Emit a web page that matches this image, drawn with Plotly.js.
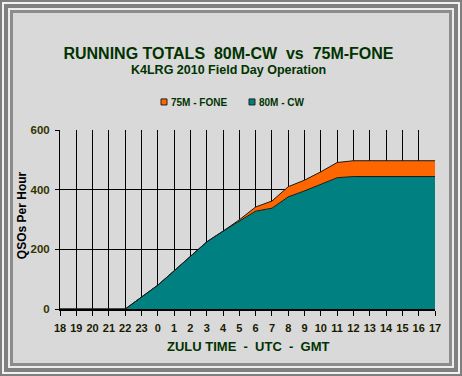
<!DOCTYPE html>
<html>
<head>
<meta charset="utf-8">
<script src="https://cdn.plot.ly/plotly-3.0.1.min.js"></script>
<style>
html,body{margin:0;padding:0;background:#d9d9d9;}
#f1{width:462px;height:376px;box-sizing:border-box;border:2px solid #7f7f7f;background:#d9d9d9;}
#f2{width:100%;height:100%;box-sizing:border-box;border:2px solid #f2f2f2;}
#f3{width:100%;height:100%;box-sizing:border-box;border:4px solid #808080;}
#f4{width:100%;height:100%;box-sizing:border-box;border:2px solid #ececec;}
#f5{width:100%;height:100%;box-sizing:border-box;border:3px solid #8c8c8c;}
#chart{width:436px;height:350px;}
</style>
</head>
<body>
<div id="f1"><div id="f2"><div id="f3"><div id="f4"><div id="f5"><div id="chart"></div></div></div></div></div></div>
<script>
var hours = ["18","19","20","21","22","23","0","1","2","3","4","5","6","7","8","9","10","11","12","13","14","15","16","17"];
var cw80 =   [0,0,0,0,0,40,80,128,178,225,261,295,328,338,376,396,418,440,444,444,444,444,444,444];
var fone75 = [0,0,0,0,0,0,0,0,0,0,0,4,14,24,34,36,42,51,53,53,53,53,53,53];
var seriesNames = ["80M - CW","75M - FONE"];
var seriesColors = ["#008080","#ff6600"];

var OFF = 13;               // frame thickness around the chart div
var W = 436, H = 350;
var PL = 60, PR = 435, PT = 130, PB = 308.7;   // plot area in page pixels
var ml = PL - OFF, mr = W - (PR - OFF), mt = PT - OFF, mb = Math.round(H - (PB - OFF));
function px(x){ return (x - PL) / (PR - PL); }
function py(y){ return (PB - y) / (PB - PT); }

var traces = [
  {x: hours, y: cw80, type: "scatter", mode: "lines", stackgroup: "s", name: seriesNames[0],
   fillcolor: seriesColors[0], line: {color: "#1a1a1a", width: 1}, showlegend: false, hoverinfo: "skip"},
  {x: hours, y: fone75, type: "scatter", mode: "lines", stackgroup: "s", name: seriesNames[1],
   fillcolor: seriesColors[1], line: {color: "#1a1a1a", width: 1}, showlegend: false, hoverinfo: "skip"}
];

var legendItems = [
  {name: seriesNames[1], color: seriesColors[1], sq: 161},
  {name: seriesNames[0], color: seriesColors[0], sq: 249}
];
var shapes = [], annotations = [];
legendItems.forEach(function(it){
  shapes.push({type: "rect", xref: "paper", yref: "paper",
    x0: px(it.sq), x1: px(it.sq + 6), y0: py(105), y1: py(99),
    fillcolor: it.color, line: {color: "#222222", width: 1}});
  annotations.push({text: "<b>" + it.name + "</b>", xref: "paper", yref: "paper",
    x: px(it.sq + 7.5), y: py(102.5), xanchor: "left", yanchor: "middle", showarrow: false,
    font: {size: 10, color: "#003300"}});
});
annotations.push({
  text: "<b>K4LRG 2010 Field Day Operation</b>",
  xref: "paper", yref: "paper", x: px(228), y: py(70), xanchor: "center", yanchor: "middle",
  showarrow: false, font: {size: 12.5, color: "#003300"}
});
annotations.push({
  text: "<b>ZULU TIME\u00a0\u00a0-\u00a0\u00a0UTC\u00a0\u00a0-\u00a0\u00a0GMT</b>",
  xref: "paper", yref: "paper", x: px(248.5), y: py(346), xanchor: "center", yanchor: "middle",
  showarrow: false, font: {size: 13, color: "#003300"}
});
annotations.push({
  text: "<b>QSOs Per Hour</b>", textangle: -90,
  xref: "paper", yref: "paper", x: px(22), y: py(215), xanchor: "center", yanchor: "middle",
  showarrow: false, font: {size: 12, color: "#000000"}
});

var layout = {
  width: W, height: H,
  margin: {l: ml, r: mr, t: mt, b: mb, pad: 0},
  paper_bgcolor: "#d9d9d9",
  plot_bgcolor: "#d9d9d9",
  font: {family: "Arial, 'Liberation Sans', sans-serif", color: "#0d2600"},
  title: {
    text: "<b>RUNNING TOTALS\u00a0\u00a080M-CW\u00a0\u00a0vs\u00a0\u00a075M-FONE</b>",
    font: {size: 16, color: "#003300"},
    x: (228.5 - OFF) / W, xanchor: "center", y: 1 - (53 - OFF) / H, yanchor: "middle", yref: "container"
  },
  showlegend: false,
  shapes: shapes,
  annotations: annotations,
  xaxis: {
    type: "category", range: [0, 23],
    showgrid: true, gridcolor: "#000000", gridwidth: 1,
    showline: true, linecolor: "#000000", linewidth: 2,
    ticks: "outside", ticklen: 5, tickcolor: "#000000",
    ticklabelstandoff: 3,
    tickfont: {size: 11, color: "#1a1a00", weight: "bold"},
    fixedrange: true
  },
  yaxis: {
    range: [0, 600], tickvals: [0, 200, 400, 600],
    showgrid: true, gridcolor: "#000000", gridwidth: 1,
    showline: true, linecolor: "#000000", linewidth: 1,
    zeroline: false,
    ticks: "outside", ticklen: 4, tickcolor: "#000000",
    ticklabelstandoff: 3,
    tickfont: {size: 11.5, color: "#333300", weight: "bold"},
    fixedrange: true
  }
};

Plotly.newPlot("chart", traces, layout, {staticPlot: true, displayModeBar: false});
</script>
</body>
</html>
